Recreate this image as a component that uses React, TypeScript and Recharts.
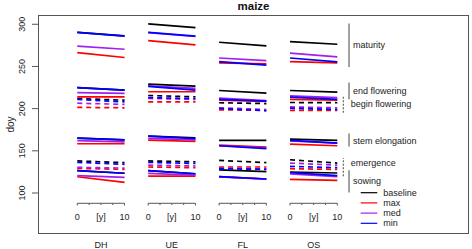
import { LineChart, Line, XAxis, YAxis, ReferenceLine } from 'recharts';

const panels = ['DH', 'UE', 'FL', 'OS'];
const scenarios = ['baseline', 'max', 'med', 'min'];
const yearTicks = [0, 2.5, 5, 7.5, 10];
const yearLabels: Record<string, string> = { '0': '0', '5': '[y]', '10': '10' };
const doyTicks = [100, 150, 200, 250, 300];

// [doy at year 0, doy at year 10] for DH, UE, FL, OS
const sowing = {
  baseline: [[126.5, 123.4], [126.5, 122.8], [127.3, 125.3], [124.9, 123.7]],
  max: [[119.3, 112.6], [120, 120], [119.3, 116.6], [116.2, 115]],
  med: [[120.5, 118.6], [123.2, 121.3], [119, 116.5], [122.5, 119.3]],
  min: [[126.5, 123.4], [126.5, 122.8], [119.3, 116.6], [124.1, 120.5]],
};
const emergence = {
  baseline: [[138, 136], [138, 137], [138.6, 136], [139.4, 135.5]],
  max: [[129.2, 128], [130.8, 130], [130.8, 130.8], [128.8, 128]],
  med: [[130.4, 129.5], [133, 132], [129.5, 128.5], [135.5, 133]],
  min: [[136.3, 134], [136.3, 135], [128.8, 128], [131.6, 130]],
};
const stemElongation = {
  baseline: [[165, 163], [167.5, 165.5], [162.3, 162.3], [163.9, 162.3]],
  max: [[158.4, 158.4], [162.7, 161.2], [156.8, 154.4], [158, 156]],
  med: [[162, 160.7], [164.7, 163], [156, 153.5], [161.8, 159.2]],
  min: [[165, 163], [167.5, 164.5], [156, 152.5], [162.3, 159.2]],
};
const beginFlowering = {
  baseline: [[212, 210], [215.6, 214], [207, 206], [207.3, 207]],
  max: [[201.5, 201], [208, 208], [198.6, 198], [198, 198]],
  med: [[206.5, 205], [212, 211], [201, 199], [202, 201]],
  min: [[211, 208], [213, 212], [200.2, 197.5], [200.6, 199]],
};
const endFlowering = {
  baseline: [[225, 222], [229, 226.6], [221.5, 218.3], [221.5, 219.5]],
  max: [[214, 214], [220, 220], [210, 208.5], [211, 210]],
  med: [[219, 218], [227, 224], [212.4, 209.5], [215.2, 213]],
  min: [[225, 222], [226.5, 222], [211, 209], [213.6, 211]],
};
const maturity = {
  baseline: [[290.5, 286.3], [300.4, 296], [278.7, 274.3], [279.5, 276.3]],
  max: [[266.5, 260.6], [280.7, 275.5], [254.2, 253], [255.8, 254.2]],
  med: [[274, 270.4], [290, 285.5], [260, 257], [265.7, 261.3]],
  min: [[290.5, 286], [290.5, 286], [255.8, 251.5], [260, 255.4]],
};

const phases = [
  { key: 'sowing', label: 'sowing', values: sowing, dashed: false, range: [100.5, 127] },
  { key: 'emergence', label: 'emergence', values: emergence, dashed: true, range: [120, 141.5] },
  { key: 'stem', label: 'stem elongation', values: stemElongation, dashed: false, range: [155, 170.5] },
  { key: 'beginFl', label: 'begin flowering', values: beginFlowering, dashed: true, range: [195, 216] },
  { key: 'endFl', label: 'end flowering', values: endFlowering, dashed: false, range: [211, 231] },
  { key: 'maturity', label: 'maturity', values: maturity, dashed: false, range: [249.5, 301] },
];

const COLORS: Record<string, string> = {
  baseline: '#000000',
  max: '#FF0000',
  med: '#A020F0',
  min: '#0000FF',
};

const STEP = 15; // panel spacing in x units (10 years + gap)
const FONT = '"Liberation Sans", Arial, sans-serif';

const rows: any[] = [];
panels.forEach((_, p) => {
  const start: any = { x: p * STEP };
  const end: any = { x: p * STEP + 10 };
  const gap: any = { x: p * STEP + 12.5 };
  phases.forEach((ph) => {
    scenarios.forEach((s) => {
      const k = `${ph.key}_${s}`;
      const v = (ph.values as any)[s][p];
      start[k] = v[0];
      end[k] = v[1];
      gap[k] = null;
    });
  });
  rows.push(start, end, gap);
});

const xTicks = panels.flatMap((_, p) => yearTicks.map((t) => p * STEP + t));

function XTick(props: any) {
  const { x, y, payload } = props;
  const p = Math.floor((payload.value + 0.01) / STEP);
  const t = Math.round((payload.value - p * STEP) * 10) / 10;
  const label = yearLabels[String(t)];
  const isEnd = t === 0 || t === 10;
  return (
    <g>
      <line x1={x} x2={x} y1={y - 30.7} y2={y - (isEnd ? 28.5 : 29)} stroke="#555" strokeWidth={1} />
      {label && (
        <text x={x} y={y - 17} textAnchor="middle" dominantBaseline="central" fontSize={9} fontFamily={FONT} fill="#222">
          {label}
        </text>
      )}
      {t === 5 && (
        <text x={x} y={y + 11} textAnchor="middle" dominantBaseline="central" fontSize={9} fontFamily={FONT} fill="#222">
          {panels[p]}
        </text>
      )}
    </g>
  );
}

function YTick(props: any) {
  const { x, y, payload } = props;
  const cx = x - 8.3;
  return (
    <text
      x={cx}
      y={y}
      transform={`rotate(-90, ${cx}, ${y})`}
      textAnchor="middle"
      dominantBaseline="central"
      fontSize={9}
      fontFamily={FONT}
      fill="#222"
    >
      {payload.value}
    </text>
  );
}

const BRACKET_X = 57.48;
const BRACKET_X_DASHED = 56.27;

const annotationText = [
  { label: 'maturity', x: 353, y: 45 },
  { label: 'end flowering', x: 353, y: 91 },
  { label: 'begin flowering', x: 350.7, y: 104.3 },
  { label: 'stem elongation', x: 353, y: 140.7 },
  { label: 'emergence', x: 350.7, y: 163.3 },
  { label: 'sowing', x: 353, y: 180.7 },
];

export default function App() {
  return (
    <div style={{ position: 'relative', width: 472, height: 249, background: '#fff' }}>
      <style>{'body{margin:0}'}</style>
      <LineChart width={472} height={249} data={rows} margin={{ top: 15, right: 3, bottom: 0, left: 8 }}>
        <XAxis
          dataKey="x"
          type="number"
          domain={[-8.31, 82.86]}
          allowDataOverflow
          ticks={xTicks}
          interval={0}
          tick={<XTick />}
          tickLine={false}
          axisLine={false}
          tickSize={0}
          tickMargin={0}
          height={15}
        />
        <YAxis
          type="number"
          domain={[51.4, 311]}
          allowDataOverflow
          ticks={doyTicks}
          interval={0}
          width={30}
          tickSize={6}
          tickMargin={2}
          axisLine={false}
          tickLine={{ stroke: '#555' }}
          tick={<YTick />}
        />
        {panels.map((_, p) => (
          <ReferenceLine
            key={`ax-${p}`}
            segment={[
              { x: p * STEP, y: 87.8 },
              { x: p * STEP + 10, y: 87.8 },
            ]}
            stroke="#555"
            strokeWidth={1}
            ifOverflow="visible"
          />
        ))}
        {phases.map((ph) => (
          <ReferenceLine
            key={`br-${ph.key}`}
            segment={[
              { x: ph.dashed ? BRACKET_X_DASHED : BRACKET_X, y: ph.range[0] },
              { x: ph.dashed ? BRACKET_X_DASHED : BRACKET_X, y: ph.range[1] },
            ]}
            stroke="#555"
            strokeWidth={1.1}
            strokeDasharray={ph.dashed ? '2 1.5' : undefined}
            ifOverflow="visible"
          />
        ))}
        {phases.flatMap((ph) =>
          scenarios.map((s) => (
            <Line
              key={`${ph.key}_${s}`}
              dataKey={`${ph.key}_${s}`}
              type="linear"
              stroke={COLORS[s]}
              strokeWidth={1.7}
              strokeDasharray={ph.dashed ? '5 4' : undefined}
              dot={false}
              activeDot={false}
              connectNulls={false}
              isAnimationActive={false}
            />
          ))
        )}
      </LineChart>
      <div
        style={{
          position: 'absolute',
          left: 38,
          top: 15,
          width: 431,
          height: 219,
          border: '1px solid #555',
          boxSizing: 'border-box',
          pointerEvents: 'none',
        }}
      />
      <svg width={472} height={249} style={{ position: 'absolute', left: 0, top: 0, pointerEvents: 'none' }}>
        <text x={253.5} y={6} textAnchor="middle" dominantBaseline="central" fontSize={11.5} fontWeight="bold" fontFamily={FONT} fill="#111">
          maize
        </text>
        <text x={10} y={124.5} transform="rotate(-90, 10, 124.5)" textAnchor="middle" dominantBaseline="central" fontSize={10} fontFamily={FONT} fill="#222">
          doy
        </text>
        {annotationText.map((a) => (
          <text key={a.label} x={a.x} y={a.y} dominantBaseline="central" fontSize={9} fontFamily={FONT} fill="#222">
            {a.label}
          </text>
        ))}
        {scenarios.map((s, i) => (
          <g key={s}>
            <line x1={360.7} x2={377.3} y1={192.7 + i * 10.2} y2={192.7 + i * 10.2} stroke={COLORS[s]} strokeWidth={1.2} />
            <text x={383.3} y={192.7 + i * 10.2} dominantBaseline="central" fontSize={9} fontFamily={FONT} fill="#222">
              {s}
            </text>
          </g>
        ))}
      </svg>
    </div>
  );
}
